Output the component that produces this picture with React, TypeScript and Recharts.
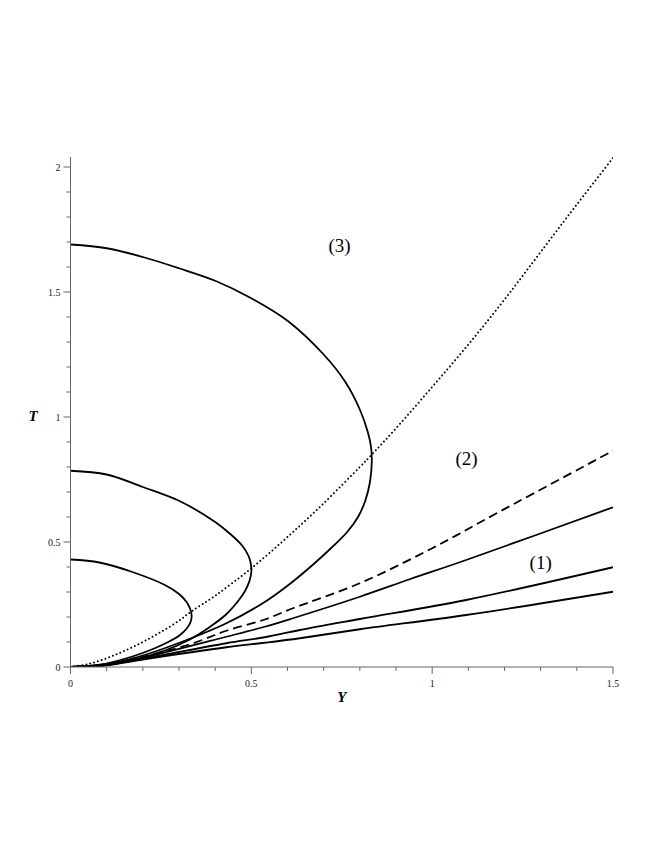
import React from "react";
import { LineChart, Line, XAxis, YAxis, ReferenceDot } from "recharts";

type P = { Y: number; T: number };
const mk = (arr: number[][]): P[] => arr.map(([Y, T]) => ({ Y, T }));

// dotted boundary curve
const dottedCurve = mk([
  [0, 0], [0.05, 0.012], [0.1, 0.035], [0.15, 0.065], [0.2, 0.1], [0.25, 0.14],
  [0.3, 0.185], [0.333, 0.221], [0.4, 0.285], [0.5, 0.395], [0.6, 0.52],
  [0.7, 0.655], [0.8, 0.8], [0.832, 0.848], [0.9, 0.955], [1.0, 1.12],
  [1.1, 1.29], [1.2, 1.47], [1.3, 1.66], [1.4, 1.85], [1.5, 2.036],
]);

// closed loops (upper branch then lower branch back to origin)
const innerLoop = mk([
  [0, 0.43], [0.08, 0.418], [0.169, 0.381], [0.261, 0.328], [0.3, 0.292],
  [0.32, 0.262], [0.331, 0.232], [0.335, 0.205], [0.332, 0.18], [0.322, 0.155],
  [0.3, 0.125], [0.27, 0.1], [0.233, 0.075], [0.169, 0.041], [0.077, 0.008], [0, 0],
]);
const middleLoop = mk([
  [0, 0.785], [0.1, 0.77], [0.2, 0.72], [0.3, 0.665], [0.4, 0.58], [0.445, 0.528],
  [0.475, 0.485], [0.492, 0.445], [0.499, 0.41], [0.5, 0.38], [0.495, 0.345],
  [0.483, 0.305], [0.464, 0.265], [0.43, 0.21], [0.385, 0.16], [0.33, 0.11],
  [0.261, 0.066], [0.17, 0.028], [0.08, 0.006], [0, 0],
]);
const outerLoop = mk([
  [0, 1.69], [0.1, 1.675], [0.2, 1.64], [0.3, 1.595], [0.4, 1.545], [0.5, 1.475],
  [0.6, 1.385], [0.7, 1.25], [0.76, 1.14], [0.8, 1.03], [0.822, 0.94],
  [0.831, 0.88], [0.833, 0.82], [0.828, 0.74], [0.815, 0.665], [0.795, 0.6],
  [0.765, 0.54], [0.72, 0.475], [0.671, 0.41], [0.6, 0.325], [0.537, 0.26],
  [0.431, 0.175], [0.321, 0.108], [0.2, 0.046], [0.1, 0.012], [0, 0],
]);

// dashed separatrix
const dashedCurve = mk([
  [0, 0], [0.1, 0.01], [0.2, 0.04], [0.339, 0.095], [0.431, 0.145],
  [0.537, 0.19], [0.615, 0.235], [0.8, 0.335], [1.0, 0.475], [1.186, 0.621],
  [1.5, 0.865],
]);

// solid curves in region (1)
const solidA = mk([
  [0, 0], [0.1, 0.009], [0.2, 0.037], [0.431, 0.121], [0.537, 0.161],
  [0.615, 0.195], [0.8, 0.281], [0.938, 0.351], [1.094, 0.428], [1.5, 0.639],
]);
const solidB = mk([
  [0, 0], [0.1, 0.008], [0.2, 0.033], [0.431, 0.095], [0.537, 0.119],
  [0.634, 0.148], [0.8, 0.192], [1.094, 0.268], [1.5, 0.399],
]);
const solidC = mk([
  [0, 0], [0.1, 0.007], [0.2, 0.03], [0.431, 0.079], [0.537, 0.097],
  [0.634, 0.115], [0.8, 0.151], [1.094, 0.208], [1.5, 0.301],
]);

const xTicks = [0, 0.1, 0.2, 0.3, 0.4, 0.5, 0.6, 0.7, 0.8, 0.9, 1, 1.1, 1.2, 1.3, 1.4, 1.5];
const yTicks = [0, 0.1, 0.2, 0.3, 0.4, 0.5, 0.6, 0.7, 0.8, 0.9, 1, 1.1, 1.2, 1.3, 1.4, 1.5, 1.6, 1.7, 1.8, 1.9, 2];
const regionLabels = [
  { Y: 0.744, T: 1.688, text: "(3)" },
  { Y: 1.095, T: 0.836, text: "(2)" },
  { Y: 1.3, T: 0.42, text: "(1)" },
];

const isMajor = (v: number) => Math.abs(v * 2 - Math.round(v * 2)) < 1e-6;
const fmt = (v: number) => (Math.abs(v - Math.round(v)) < 1e-6 ? String(Math.round(v)) : String(v));

const SERIF = "'Liberation Serif', 'DejaVu Serif', serif";
const AXIS = "#666";

// centripetal Catmull-Rom curve factory (smooth parametric curve, handles loops)
const catmullRom = (context: any) => {
  let pts: number[][] = [];
  return {
    areaStart() {},
    areaEnd() {},
    lineStart() {
      pts = [];
    },
    point(x: number, y: number) {
      pts.push([+x, +y]);
    },
    lineEnd() {
      const n = pts.length;
      if (!n) return;
      context.moveTo(pts[0][0], pts[0][1]);
      const eps = 1e-9;
      for (let i = 0; i < n - 1; i++) {
        const p0 = pts[i - 1] || pts[i];
        const p1 = pts[i];
        const p2 = pts[i + 1];
        const p3 = pts[i + 2] || pts[i + 1];
        const d01 = Math.hypot(p1[0] - p0[0], p1[1] - p0[1]);
        const d12 = Math.hypot(p2[0] - p1[0], p2[1] - p1[1]);
        const d23 = Math.hypot(p3[0] - p2[0], p3[1] - p2[1]);
        const l01a = Math.sqrt(d01), l12a = Math.sqrt(d12), l23a = Math.sqrt(d23);
        let c1x = p1[0], c1y = p1[1], c2x = p2[0], c2y = p2[1];
        if (l01a > eps) {
          const a = 2 * d01 + 3 * l01a * l12a + d12;
          const nn = 3 * l01a * (l01a + l12a);
          c1x = (p1[0] * a - p0[0] * d12 + p2[0] * d01) / nn;
          c1y = (p1[1] * a - p0[1] * d12 + p2[1] * d01) / nn;
        }
        if (l23a > eps) {
          const b = 2 * d23 + 3 * l23a * l12a + d12;
          const m = 3 * l23a * (l23a + l12a);
          c2x = (p2[0] * b + p1[0] * d23 - p3[0] * d12) / m;
          c2y = (p2[1] * b + p1[1] * d23 - p3[1] * d12) / m;
        }
        context.bezierCurveTo(c1x, c1y, c2x, c2y, p2[0], p2[1]);
      }
    },
  };
};

const XTick = (props: any) => {
  const { x, y, payload } = props;
  const v = payload.value;
  const major = isMajor(v);
  return (
    <g>
      <line x1={x} x2={x} y1={y} y2={y + (major ? 7 : 4)} stroke={AXIS} strokeWidth={1} />
      {major && (
        <text x={x} y={y + 16} textAnchor="middle" dominantBaseline="central" fontFamily={SERIF} fontSize={10} fill="#222">
          {fmt(v)}
        </text>
      )}
    </g>
  );
};

const YTick = (props: any) => {
  const { x, y, payload } = props;
  const v = payload.value;
  const major = isMajor(v);
  return (
    <g>
      <line x1={x} x2={x - (major ? 7 : 4)} y1={y} y2={y} stroke={AXIS} strokeWidth={1} />
      {major && (
        <text x={x - 10} y={y} textAnchor="end" dominantBaseline="central" fontFamily={SERIF} fontSize={10} fill="#222">
          {fmt(v)}
        </text>
      )}
    </g>
  );
};

const lineCommon = {
  dataKey: "T",
  stroke: "#000",
  strokeWidth: 1.8,
  dot: false,
  activeDot: false,
  isAnimationActive: false,
  legendType: "none" as const,
  type: catmullRom as any,
};

export default function App() {
  return (
    <div style={{ position: "absolute", left: 0, top: 0, background: "#fff" }}>
      <LineChart width={664} height={860} margin={{ top: 157, right: 51, bottom: 163, left: 10.5 }}>
        <XAxis
          dataKey="Y"
          type="number"
          domain={[0, 1.5]}
          ticks={xTicks}
          interval={0}
          allowDataOverflow
          axisLine={{ stroke: AXIS, strokeWidth: 1 }}
          tickLine={false}
          tickSize={0}
          tickMargin={0}
          height={30}
          tick={<XTick />}
          label={{
            content: (p: any) => {
              const vb = p.viewBox || {};
              return (
                <text x={vb.x + vb.width / 2} y={vb.y + 30} textAnchor="middle" dominantBaseline="central" fontFamily={SERIF} fontSize={15} fontWeight="bold" fontStyle="italic" fill="#000">
                  Y
                </text>
              );
            },
          }}
        />
        <YAxis
          type="number"
          domain={[0, 2.04]}
          ticks={yTicks}
          interval={0}
          allowDataOverflow
          axisLine={{ stroke: AXIS, strokeWidth: 1 }}
          tickLine={false}
          tickSize={0}
          tickMargin={0}
          width={60}
          tick={<YTick />}
          label={{
            content: (p: any) => {
              const vb = p.viewBox || {};
              return (
                <text x={vb.x + 22.5} y={vb.y + vb.height / 2 + 4} textAnchor="middle" dominantBaseline="central" fontFamily={SERIF} fontSize={15} fontWeight="bold" fontStyle="italic" fill="#000">
                  T
                </text>
              );
            },
          }}
        />
        <Line {...lineCommon} data={dottedCurve} strokeDasharray="0 4" strokeLinecap="round" strokeWidth={2} />
        <Line {...lineCommon} data={innerLoop} />
        <Line {...lineCommon} data={middleLoop} />
        <Line {...lineCommon} data={outerLoop} />
        <Line {...lineCommon} data={dashedCurve} strokeDasharray="9 5" />
        <Line {...lineCommon} data={solidA} />
        <Line {...lineCommon} data={solidB} />
        <Line {...lineCommon} data={solidC} />
        {regionLabels.map((r) => (
          <ReferenceDot
            key={r.text}
            x={r.Y}
            y={r.T}
            r={0}
            ifOverflow="visible"
            shape={(p: any) => (
              <text x={p.cx} y={p.cy} textAnchor="middle" dominantBaseline="central" fontFamily={SERIF} fontSize={19} fill="#000">
                {r.text}
              </text>
            )}
          />
        ))}
      </LineChart>
    </div>
  );
}
